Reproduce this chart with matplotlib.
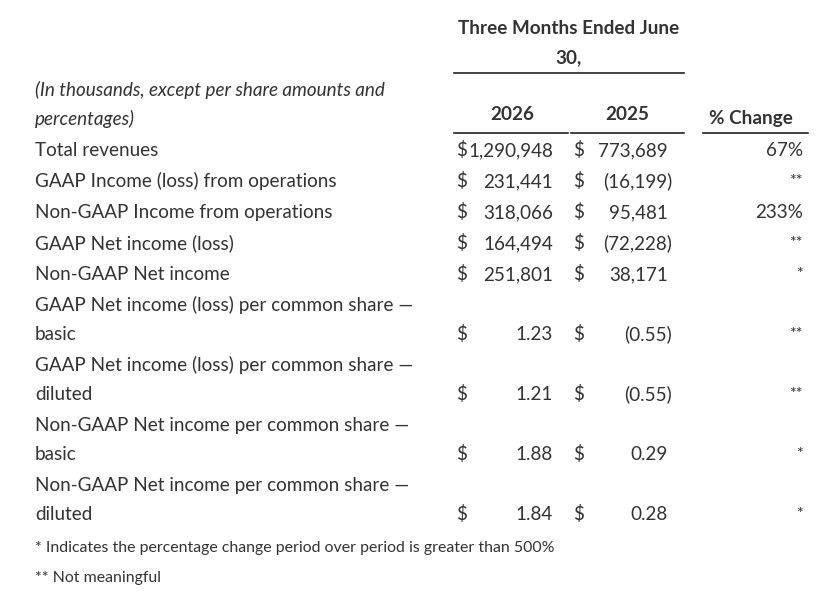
import matplotlib
matplotlib.use('Agg')
import matplotlib.pyplot as plt

plt.rcParams['font.family'] = ['Lato', 'DejaVu Sans']

# table data
row_labels = [
    'Total revenues',
    'GAAP Income (loss) from operations',
    'Non-GAAP Income from operations',
    'GAAP Net income (loss)',
    'Non-GAAP Net income',
    'GAAP Net income (loss) per common share —\nbasic',
    'GAAP Net income (loss) per common share —\ndiluted',
    'Non-GAAP Net income per common share —\nbasic',
    'Non-GAAP Net income per common share —\ndiluted',
]
vals_2026 = [1290948, 231441, 318066, 164494, 251801, 1.23, 1.21, 1.88, 1.84]
vals_2025 = [773689, -16199, 95481, -72228, 38171, -0.55, -0.55, 0.29, 0.28]
pct_change = ['67%', '**', '233%', '**', '*', '**', '**', '*', '*']
per_share = [False] * 5 + [True] * 4

col_years = ['2026', '2025']
header = ['Three Months Ended June', '30,']
units_note = ['(In thousands, except per share amounts and', 'percentages)']
footnotes = ['* Indicates the percentage change period over period is greater than 500%',
             '** Not meaningful']

TXT = '#333333'
FS = 13.6
BL = 6  # baseline offset below the row's visual centre


def fmt(v, ps):
    s = f'{abs(v):.2f}' if ps else f'{abs(v):,.0f}'
    return f'({s})' if v < 0 else s


def put(x, y, s, ha='left', **kw):
    kw.setdefault('fontsize', FS)
    ax.text(x, y + BL, s, ha=ha, va='baseline', color=TXT, **kw)


fig = plt.figure(figsize=(8.31, 6.00), dpi=100)
ax = fig.add_axes([0, 0, 1, 1])
ax.set_xlim(0, 831)
ax.set_ylim(600, 0)
ax.axis('off')

# header block
put(569, 28, header[0], ha='center', fontweight='bold')
put(569, 57, header[1], ha='center', fontweight='bold')
ax.plot([454, 684], [73, 73], color='#222222', lw=1.2)
put(35, 90, units_note[0], style='italic')
put(35, 119, units_note[1], style='italic')
put(512, 114, col_years[0], ha='center', fontweight='bold')
put(627, 114, col_years[1], ha='center', fontweight='bold')
put(751, 118, '% Change', ha='center', fontweight='bold')
for x0, x1 in [(454, 568), (571, 684), (703, 808)]:
    ax.plot([x0, x1], [133, 133], color='#222222', lw=1.2)

# body rows
y = 150
for lab, a, b, c, ps in zip(row_labels, vals_2026, vals_2025, pct_change, per_share):
    lines = lab.split('\n')
    for i, ln in enumerate(lines):
        put(35, y + 29 * i, ln)
    yv = y + 29 * (len(lines) - 1)
    put(456, yv, '$')
    put(553 + (4 if a < 0 else 0), yv, fmt(a, ps), ha='right')
    put(573, yv, '$')
    put(668 + (4 if b < 0 else 0), yv, fmt(b, ps), ha='right')
    if c.startswith('*'):
        put(803, yv - 2, c, ha='right', fontsize=FS * 0.85)
    else:
        put(803, yv, c, ha='right')
    y += 60 if len(lines) > 1 else 31

put(35, 546, footnotes[0], fontsize=11.4)
put(35, 576, footnotes[1], fontsize=11.4)

fig.savefig('out.png', dpi=100, facecolor='white')
